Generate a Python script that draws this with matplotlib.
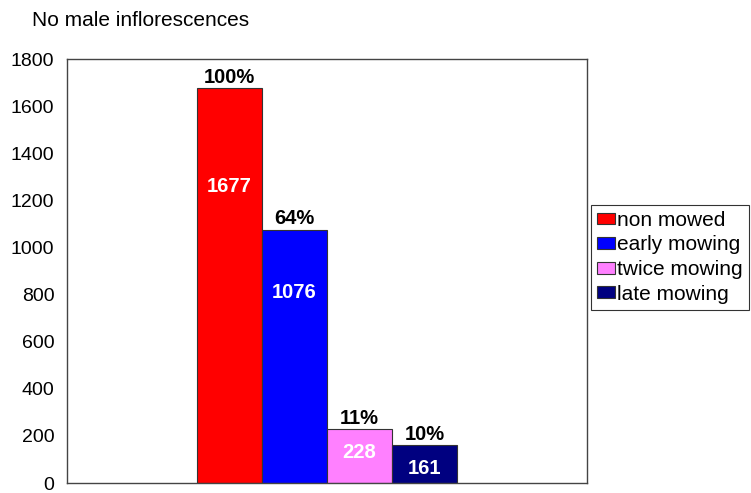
import matplotlib.pyplot as plt
from matplotlib.patches import Patch

plt.rcParams['font.family'] = ['Liberation Sans', 'DejaVu Sans']

# data
treatments = ["non mowed", "early mowing", "twice mowing", "late mowing"]
counts = [1677, 1076, 228, 161]
percents = ["100%", "64%", "11%", "10%"]
colors = ["#FF0000", "#0000FF", "#FF80FF", "#000080"]
y_ticks = [0, 200, 400, 600, 800, 1000, 1200, 1400, 1600, 1800]

fig = plt.figure(figsize=(7.51, 4.93), dpi=100)
ax = fig.add_axes([67 / 751, 1 - 483 / 493, 520 / 751, 424 / 493])

xs = [2.5 + i for i in range(len(counts))]
ax.bar(xs, counts, width=1.0, color=colors, edgecolor="#333333", linewidth=0.8)

for x, v, p in zip(xs, counts, percents):
    ax.annotate(p, (x, v), xytext=(0, 1), textcoords="offset points",
                ha="center", va="bottom", fontsize=14.5, fontweight="bold", color="black")
    ax.text(x, min(0.75 * v, v - 100), str(v), ha="center", va="center",
            fontsize=14.5, fontweight="bold", color="white")

ax.set_xlim(0, 8)
ax.set_ylim(0, 1800)
ax.set_yticks(y_ticks)
ax.set_xticks([])
ax.tick_params(axis="y", length=0, labelsize=14, pad=9)
for s in ax.spines.values():
    s.set_color("#444444")
    s.set_linewidth(1.0)

fig.text(32 / 751, 1 - 20 / 493, "No male inflorescences", fontsize=15,
         ha="left", va="center")

handles = [Patch(facecolor=c, edgecolor="#333333", linewidth=0.8) for c in colors]
leg = fig.legend(handles, treatments, loc="upper left",
                 bbox_to_anchor=(591 / 751, 1 - 205 / 493), fontsize=15,
                 frameon=True, fancybox=False, borderpad=0.28, labelspacing=0.27,
                 handlelength=0.85, handleheight=0.5, handletextpad=0.12,
                 borderaxespad=0)
leg.get_frame().set_edgecolor("black")
leg.get_frame().set_linewidth(0.8)

fig.savefig("out.png", dpi=100)
